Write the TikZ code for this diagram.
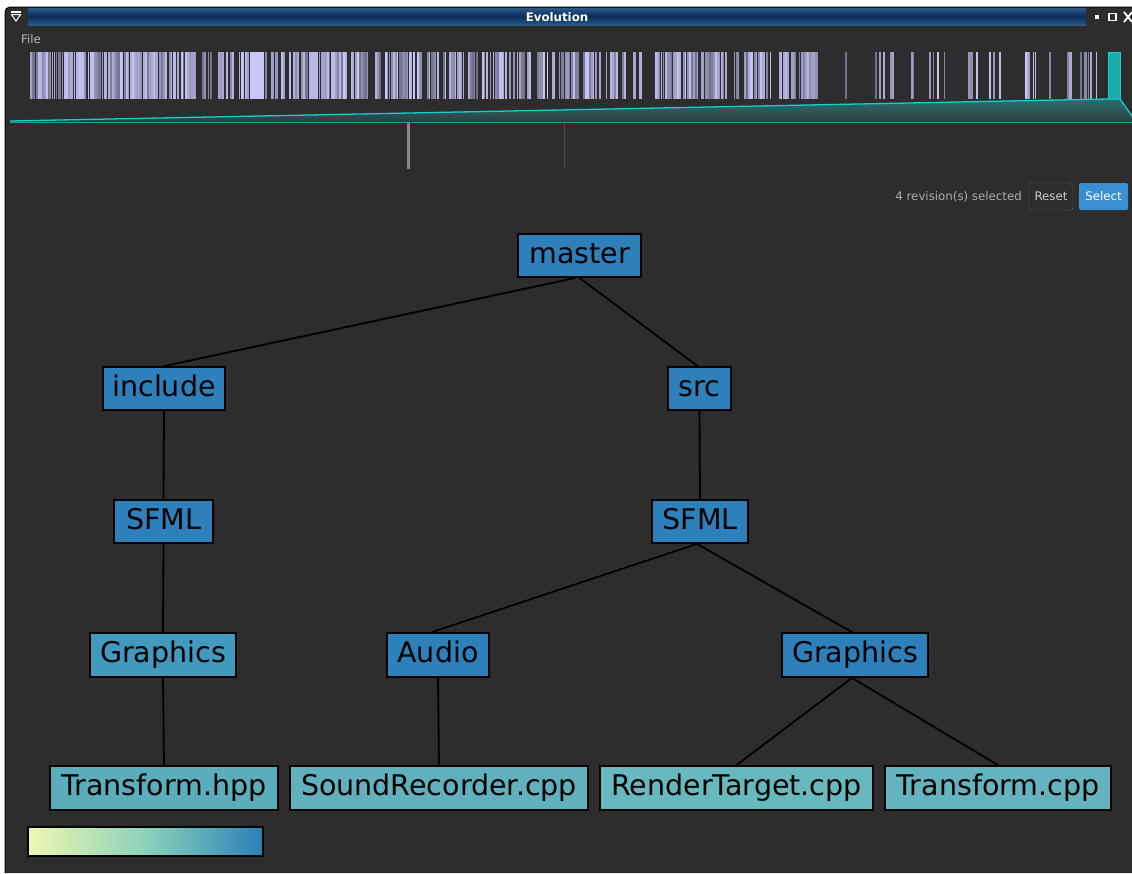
\documentclass[tikz,border=0pt]{standalone}
\usepackage{fontspec}
\setmainfont{DejaVu Sans}
\definecolor{bg}{HTML}{2D2D2D}
\definecolor{cdark}{HTML}{2E80BA}
\definecolor{cgl}{HTML}{4199BE}
\definecolor{cth}{HTML}{5BADBB}
\definecolor{csr}{HTML}{60B1BD}
\definecolor{crt}{HTML}{68B8C0}
\definecolor{ctc}{HTML}{64B4BF}
\definecolor{barlight}{HTML}{C8C8F8}
\definecolor{bardark}{HTML}{5E5E74}
\definecolor{cyanl}{HTML}{10D0D0}
\definecolor{tealtop}{HTML}{2A7070}
\definecolor{tealbot}{HTML}{2F3D3D}
\definecolor{cbY}{HTML}{EDF8B1}
\definecolor{cbG}{HTML}{8BD2BA}
\definecolor{cbB}{HTML}{2C7FB8}
\definecolor{tbtop}{HTML}{2A5A8A}
\definecolor{tbmid}{HTML}{0A2C58}
\definecolor{selblue}{HTML}{3A8FD0}
\begin{document}
\begin{tikzpicture}[x=1pt,y=-1pt,
  tnode/.style={draw=black, line width=1.8pt, inner sep=0pt, text=black,
    font=\fontsize{28.5}{30}\selectfont, text height=21pt, text depth=6pt},
  edge/.style={line width=1.8pt, draw=black},
  uitext/.style={font=\fontsize{11.8}{13}\selectfont, inner sep=0pt}]
\useasboundingbox (0,0) rectangle (1132,873);
\fill[white] (0,0) rectangle (1132,873);
% window
\fill[bg] (5,873) -- (5,12) arc[start angle=180, end angle=270, radius=5] -- (1132,7) -- (1132,873) -- cycle;
\draw[black, line width=1pt] (5,873) -- (5,12) arc[start angle=180, end angle=270, radius=5] -- (1132,7);
% title bar
\shade[top color=tbtop, bottom color=tbtop, middle color=tbmid] (28,8) rectangle (1086,25);
\node[font=\fontsize{11.8}{13}\selectfont\bfseries, text=white, inner sep=0pt] (title) at (557,17) {Evolution};
% left icon
\draw[white, line width=1.2pt] (11,12) -- (21,12);
\draw[white, line width=1pt] (11.5,14.5) -- (20.5,14.5) -- (16,21) -- cycle;
% right icons
\fill[white] (1095,15) rectangle (1099,19);
\draw[white, line width=1.5pt] (1109,13.5) rectangle (1116,20.5);
\draw[white, line width=1.8pt] (1124,12) -- (1132,22) (1124,22) -- (1132,12);
% menu
\node[uitext, text=white!72!black, anchor=west] (file) at (21,39) {File};
% barcode
\pgfmathsetseed{7}
\foreach \a/\b/\d in {30/143/88, 143/196/85, 200/236/65, 239/275/65, 275/293/60,
  295/368/88, 375/464/85, 466/479/60, 482/491/50, 493/548/75, 550/554/50,
  559/601/75, 606/625/75, 631/639/50, 655/726/88, 732/742/60, 744/772/55,
  779/816/85, 826/834/40, 841/848/40, 853/883/45, 890/892/100, 907/916/50,
  927/937/45, 944/948/40, 954/976/35, 985/999/35, 1023/1052/50, 1067/1069/100,
  1080/1101/45}{
  \pgfmathtruncatemacro\n{(\b-\a)/2}
  \foreach \i in {0,...,\n}{
    \pgfmathrandominteger{\r}{0}{99}
    \ifnum\r<\d\relax
      \pgfmathsetmacro\xx{\a+2*\i}
      \pgfmathrandominteger{\c}{15}{100}
      \pgfmathrandominteger{\w}{10}{28}
      \fill[barlight!\c!bardark] (\xx,52) rectangle ++(\w/10,47);
    \fi
  }
}
\fill[barlight] (250,52) rectangle (264,99);
\fill[barlight!90!bardark] (78,52) rectangle (84,99);
\fill[barlight!85!bardark] (310,52) rectangle (318,99);
% selected region
\fill[cyanl!60!tealtop] (1108,52) rectangle (1120,99);
\draw[cyanl, line width=0.8pt] (1108,52) rectangle (1120,99);
% zoom trapezoid
\shade[top color=tealtop, bottom color=tealbot] (10,121) -- (1108,99) -- (1120,99) -- (1134,119) -- (1134,122) -- (10,122) -- cycle;
\draw[cyanl, line width=1.3pt] (10,121) -- (1108,99) -- (1120,99) -- (1134,119);
\draw[cyanl!70!bg, line width=1.3pt] (10,122.5) -- (1132,122.5);
% selection markers
\fill[bardark!75!white] (407,123) rectangle (410,169);
\fill[bardark!60!bg] (563.5,123) rectangle (565,169);
% controls
\node[uitext, text=white!68!black, anchor=east] (revs) at (1022,197) {4 revision(s) selected};
\node[uitext, draw=white!25!bg, fill=bg, text=white!80!black, minimum width=44pt, minimum height=27pt, rounded corners=1.5pt] (reset) at (1051,196.5) {Reset};
\node[uitext, fill=selblue, text=white, minimum width=49pt, minimum height=27pt, rounded corners=1.5pt] (select) at (1103.5,196.5) {Select};
% tree nodes
\node[tnode, fill=cdark, minimum width=123pt, minimum height=43pt] (master) at (579.5,255.5) {master};
\node[tnode, fill=cdark, minimum width=122pt, minimum height=43pt] (include) at (164,388.5) {include};
\node[tnode, fill=cdark, minimum width=63pt, minimum height=43pt] (src) at (699.5,388.5) {src};
\node[tnode, fill=cdark, minimum width=99pt, minimum height=43pt] (sfmlL) at (163.5,521.5) {SFML};
\node[tnode, fill=cdark, minimum width=96pt, minimum height=43pt] (sfmlR) at (700,521.5) {SFML};
\node[tnode, fill=cgl, minimum width=146pt, minimum height=44pt] (graphL) at (163,655) {Graphics};
\node[tnode, fill=cdark, minimum width=102pt, minimum height=44pt] (audio) at (438,655) {Audio};
\node[tnode, fill=cdark, minimum width=146pt, minimum height=44pt] (graphR) at (855,655) {Graphics};
\node[tnode, fill=cth, minimum width=228pt, minimum height=44pt] (thpp) at (164,788) {Transform.hpp};
\node[tnode, fill=csr, minimum width=298pt, minimum height=44pt] (srec) at (439,788) {SoundRecorder.cpp};
\node[tnode, fill=crt, minimum width=273pt, minimum height=44pt] (rtgt) at (736.5,788) {RenderTarget.cpp};
\node[tnode, fill=ctc, minimum width=226pt, minimum height=44pt] (tcpp) at (998,788) {Transform.cpp};
% edges
\draw[edge] ([xshift=-4pt]master.south) -- (include.north);
\draw[edge] (master.south) -- ([xshift=-2pt]src.north);
\draw[edge] (include.south) -- (sfmlL.north);
\draw[edge] (src.south) -- (sfmlR.north);
\draw[edge] (sfmlL.south) -- (graphL.north);
\draw[edge] ([xshift=-3pt]sfmlR.south) -- ([xshift=-6pt]audio.north);
\draw[edge] ([xshift=-3pt]sfmlR.south) -- ([xshift=-3pt]graphR.north);
\draw[edge] (graphL.south) -- (thpp.north);
\draw[edge] (audio.south) -- (srec.north);
\draw[edge] ([xshift=-3pt]graphR.south) -- (rtgt.north);
\draw[edge] ([xshift=-3pt]graphR.south) -- (tcpp.north);
% colour bar
\shade[left color=cbY, right color=cbB, middle color=cbG] (28,827) rectangle (263,856);
\node[draw=black, line width=1.8pt, minimum width=235pt, minimum height=29pt, inner sep=0pt] (cbar) at (145.5,841.5) {};
\end{tikzpicture}
\end{document}
